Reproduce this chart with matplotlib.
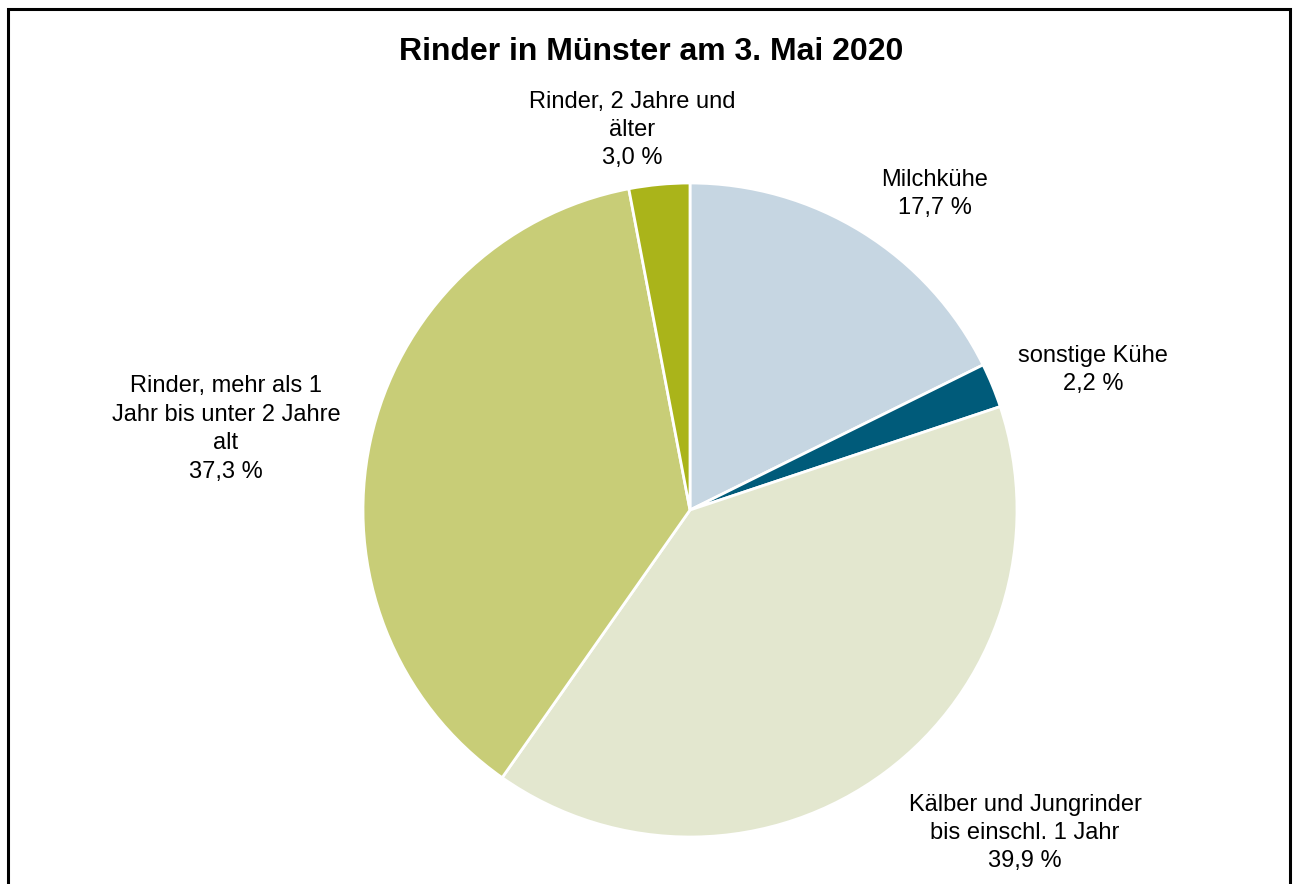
import matplotlib.pyplot as plt
from matplotlib.patches import Rectangle

plt.rcParams['font.family'] = ['Liberation Sans', 'DejaVu Sans']

labels = ["Milchkühe", "sonstige Kühe", "Kälber und Jungrinder\nbis einschl. 1 Jahr",
          "Rinder, mehr als 1\nJahr bis unter 2 Jahre\nalt", "Rinder, 2 Jahre und\nälter"]
shares = [17.7, 2.2, 39.9, 37.3, 3.0]
colors = ["#C6D6E2", "#005B7A", "#E3E7CF", "#C8CD77", "#AAB41A"]
# label anchor points in pixels (x, y from top)
label_pos = [(935, 194), (1093, 370), (1025, 833), (226, 429), (632, 130)]

W, H = 1294, 884
fig = plt.figure(figsize=(W / 100, H / 100), dpi=100)
ax = fig.add_axes([0, 0, 1, 1])

ax.pie(shares, colors=colors, startangle=90, counterclock=False,
       center=(690, H - 510), radius=327, frame=True,
       wedgeprops=dict(edgecolor="white", linewidth=2))
ax.set_xlim(0, W)
ax.set_ylim(0, H)
ax.axis("off")

for lab, val, (x, y) in zip(labels, shares, label_pos):
    pct = f"{val:.1f}".replace(".", ",")
    ax.text(x, H - y, f"{lab}\n{pct} %", ha="center", va="center", fontsize=17,
            linespacing=1.38, color="black")

ax.text(651, H - 52, "Rinder in Münster am 3. Mai 2020", ha="center", va="center",
        fontsize=23, fontweight="bold")

ax.add_patch(Rectangle((8, -10), 1282, H - 9 + 10, fill=False, edgecolor="black",
                       linewidth=2.2, clip_on=False))

fig.savefig("out.png", dpi=100)
